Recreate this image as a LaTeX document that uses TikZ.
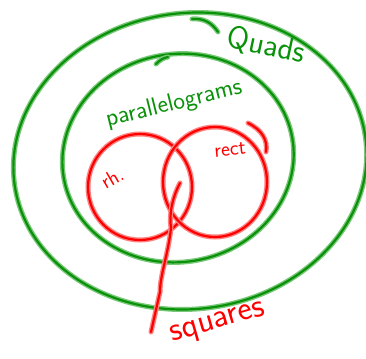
\documentclass[tikz,border=0pt]{standalone}
\usetikzlibrary{calc}
\definecolor{gcore}{RGB}{10,145,10}
\definecolor{ghalo}{RGB}{120,200,120}
\definecolor{rcore}{RGB}{255,0,0}
\definecolor{rhalo}{RGB}{255,130,130}
\tikzset{
  gline/.style={draw=gcore, line width=2.2pt, line cap=round, line join=round,
    preaction={draw=ghalo, line width=5pt, line cap=round}},
  rline/.style={draw=rcore, line width=2.2pt, line cap=round, line join=round,
    preaction={draw=rhalo, line width=5pt, line cap=round}},
  glabel/.style={text=gcore, font=\sffamily, inner sep=0pt},
  rlabel/.style={text=rcore, font=\sffamily, inner sep=0pt},
}
\begin{document}
\begin{tikzpicture}[x=1pt,y=-1pt]
\useasboundingbox (0,0) rectangle (366,358);
% outer ellipse (quadrilaterals)
\coordinate (oc) at (190,161);
\draw[gline, rotate around={7:(oc)}] (oc) ellipse [x radius=177, y radius=148];
\draw[gline] (192,19) .. controls (204,18) and (212,23) .. (218,32);
% inner ellipse (parallelograms)
\coordinate (ic) at (178,158);
\draw[gline, rotate around={10:(ic)}] (ic) ellipse [x radius=116, y radius=104];
\draw[gline] (156,64) .. controls (160,60) and (163,58) .. (168,57);
% labels green
\node[glabel, font=\sffamily\fontsize{32}{32}\selectfont, rotate=-12] (quads) at (266,46) {Quads};
\node[glabel, font=\sffamily\fontsize{25}{25}\selectfont, rotate=14] (para) at (174,104) {parallelograms};
% red circles
\coordinate (rhc) at (140,187);
\coordinate (rec) at (215,182);
\draw[rline] (rhc) ellipse [x radius=52, y radius=53];
\draw[rline] (rec) ellipse [x radius=52, y radius=55];
\draw[rline] (248,123) .. controls (262,130) and (268,140) .. (266,152);
\node[rlabel, font=\sffamily\fontsize{21}{21}\selectfont, rotate=30] (rh) at (112,178) {rh.};
\node[rlabel, font=\sffamily\fontsize{21}{21}\selectfont, rotate=5] (rect) at (230,150) {rect};
% squares
\node[rlabel, font=\sffamily\fontsize{34}{34}\selectfont, rotate=16] (sq) at (218,324) {squares};
\coordinate (sqstart) at (180,183);
\coordinate (sqend) at (151,332);
\draw[rline] (sqstart) .. controls (172,198) and (169,215) .. (171,228)
  .. controls (168,255) and (160,275) .. (160,292) -- (sqend);
\end{tikzpicture}
\end{document}
